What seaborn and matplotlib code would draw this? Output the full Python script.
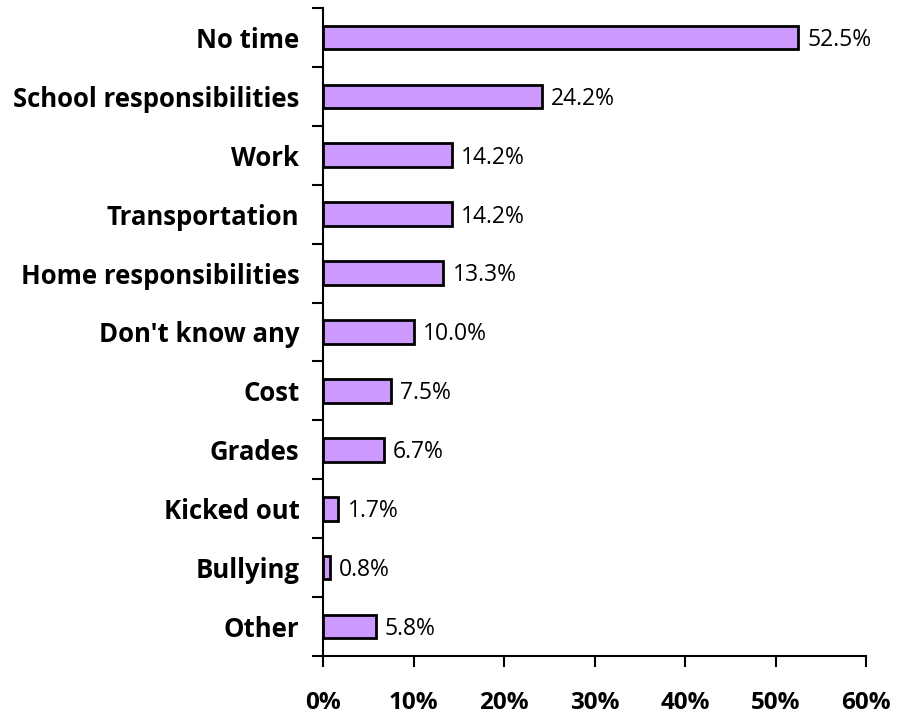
import matplotlib
matplotlib.use("Agg")
import matplotlib.pyplot as plt
import seaborn as sns
import pandas as pd
import numpy as np

categories = ["No time", "School responsibilities", "Work", "Transportation",
              "Home responsibilities", "Don't know any", "Cost", "Grades",
              "Kicked out", "Bullying", "Other"]
values = [52.5, 24.2, 14.2, 14.2, 13.3, 10.0, 7.5, 6.7, 1.7, 0.8, 5.8]
x_ticks = [0, 10, 20, 30, 40, 50, 60]
x_tick_labels = ["0%", "10%", "20%", "30%", "40%", "50%", "60%"]

sns.set_style("white")
plt.rcParams["font.family"] = ["Open Sans", "DejaVu Sans"]
plt.rcParams["text.color"] = "black"
plt.rcParams["xtick.color"] = "black"
plt.rcParams["ytick.color"] = "black"

df = pd.DataFrame({"reason": categories, "pct": values})

fig = plt.figure(figsize=(8.98, 7.19), dpi=100)
ax = fig.add_axes([0.3597, 0.0876, 0.6047, 0.9013])

sns.barplot(data=df, x="pct", y="reason", orient="h", color="#CC99FF",
            saturation=1, width=0.4, edgecolor="black", linewidth=2, ax=ax)

for i, v in enumerate(values):
    ax.text(v + 1.0, i + 0.04, f"{v:.1f}%", va="center", ha="left",
            fontsize=16.5, color="black")

ax.set_xlim(0, 60)
ax.set_ylim(len(categories) - 0.5, -0.5)
ax.set_xticks(x_ticks)
ax.set_xticklabels(x_tick_labels, fontsize=17.5, fontweight="bold")
ax.set_yticks(np.arange(len(categories)))
ax.set_yticklabels(categories, fontsize=18.5, fontweight="bold")
ax.set_xlabel("")
ax.set_ylabel("")

# category ticks sit on the boundaries between bars
ax.tick_params(axis="y", which="major", left=True, length=0, pad=17)
ax.set_yticks(np.arange(len(categories) + 1) - 0.5, minor=True)
ax.tick_params(axis="y", which="minor", left=True, length=8, width=1.5,
               color="black", direction="out")
ax.tick_params(axis="x", bottom=True, length=8, width=1.5, color="black",
               direction="out", pad=17)

for side in ["top", "right"]:
    ax.spines[side].set_visible(False)
for side in ["left", "bottom"]:
    ax.spines[side].set_color("black")
    ax.spines[side].set_linewidth(1.5)

fig.savefig("out.png", dpi=100)
